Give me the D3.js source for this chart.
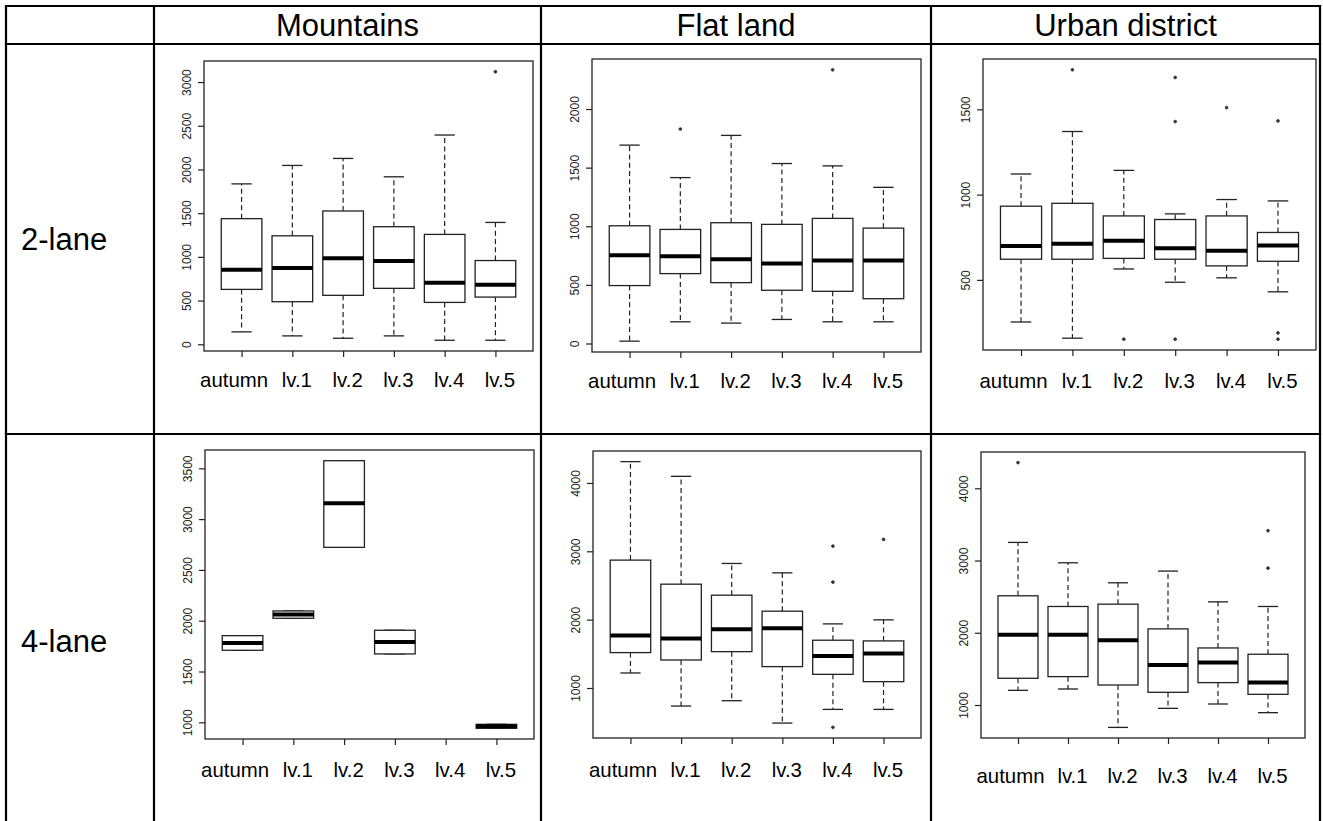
<!DOCTYPE html>
<html lang="en">
<head>
  <meta charset="UTF-8">
  <title>Box plots by region and lanes</title>
  <script src="https://d3js.org/d3.v7.min.js"></script>
  <style>
    body { margin: 0; background: #fff; }
    svg { display: block; font-family: "Liberation Sans", Arial, sans-serif; }
    .grid { stroke: #000; stroke-width: 2.2px; }
    .head { font-size: 31px; fill: #000; }
    .frame { fill: none; stroke: #222; stroke-width: 1.3px; }
    .box { fill: #fff; stroke: #222; stroke-width: 1.3px; }
    .med { stroke: #000; stroke-width: 4px; }
    .whisk { stroke: #222; stroke-width: 1.2px; stroke-dasharray: 5,3.3; }
    .cap { stroke: #222; stroke-width: 1.3px; }
    .out { fill: #333; stroke: #333; stroke-width: 0.8px; }
    .ax line { stroke: #222; stroke-width: 1.2px; }
    .ax path { display: none; }
  </style>
</head>
<body>
  <svg id="chart" width="1323" height="821"></svg>

  <script>
    const categories = ["autumn", "lv.1", "lv.2", "lv.3", "lv.4", "lv.5"];
    const regions = ["Mountains", "Flat land", "Urban district"];
    const lanes = ["2-lane", "4-lane"];

    // per category: [lower whisker, Q1, median, Q3, upper whisker]
    const mountains2 = [[142, 628, 854, 1437, 1835], [96, 487, 873, 1241, 2046], [69, 560, 985, 1525, 2126],
                        [96, 640, 954, 1345, 1916], [46, 479, 705, 1257, 2394], [46, 540, 682, 958, 1394]];
    const mountains2Out = [[], [], [], [], [], [3118]];

    const flat2 = [[20, 494, 753, 1004, 1692], [185, 596, 745, 973, 1415], [174, 519, 719, 1030, 1775],
                   [205, 454, 682, 1016, 1535], [185, 445, 708, 1067, 1515], [185, 382, 708, 984, 1332]];
    const flat2Out = [[], [1829], [], [], [2334], []];

    const urban2 = [[253, 621, 698, 932, 1121], [158, 621, 712, 949, 1370], [564, 626, 730, 875, 1142],
                    [486, 621, 685, 854, 887], [512, 582, 671, 875, 971], [430, 609, 702, 778, 963]];
    const urban2Out = [[], [1732], [152], [1687, 1428, 152], [1510], [1432, 189, 152]];

    const mountains4 = [[1709, 1709, 1781, 1853, 1853], [2024, 2024, 2060, 2096, 2096], [2722, 2722, 3156, 3575, 3575],
                        [1673, 1673, 1791, 1906, 1906], null, [941, 941, 961, 980, 980]];
    const mountains4Out = [[], [], [], [], [], []];

    const flat4 = [[1220, 1518, 1767, 2871, 4312], [736, 1410, 1723, 2519, 4097], [814, 1532, 1860, 2358, 2822],
                   [487, 1313, 1874, 2124, 2685], [687, 1200, 1469, 1699, 1938], [687, 1093, 1503, 1689, 1997]];
    const flat4Out = [[], [], [], [], [3076, 2549, 424], [3174]];

    const urban4 = [[1203, 1370, 1971, 2512, 3251], [1222, 1393, 1971, 2364, 2969], [690, 1277, 1897, 2396, 2692],
                    [954, 1176, 1555, 2054, 2854], [1014, 1310, 1587, 1790, 2428], [894, 1148, 1310, 1703, 2364]];
    const urban4Out = [[4356], [], [], [], [], [3413, 2895]];

    const ticksM2 = [0, 500, 1000, 1500, 2000, 2500, 3000];
    const ticksF2 = [0, 500, 1000, 1500, 2000];
    const ticksU2 = [500, 1000, 1500];
    const ticksM4 = [1000, 1500, 2000, 2500, 3000, 3500];
    const ticksF4 = [1000, 2000, 3000, 4000];
    const ticksU4 = [1000, 2000, 3000, 4000];

    const svg = d3.select("#chart");

    // table grid
    const colX = [6, 154, 541, 931, 1320];
    const rowY = [6, 44, 434, 846];
    svg.selectAll(".vline").data(colX).enter().append("line")
      .attr("class", "grid").attr("x1", d => d).attr("x2", d => d)
      .attr("y1", rowY[0] - 1.1).attr("y2", rowY[3]);
    svg.selectAll(".hline").data(rowY).enter().append("line")
      .attr("class", "grid").attr("y1", d => d).attr("y2", d => d)
      .attr("x1", colX[0] - 1.1).attr("x2", colX[4] + 1.1);

    svg.selectAll(".colhead").data(regions).enter().append("text")
      .attr("class", "head").attr("text-anchor", "middle")
      .attr("x", (d, i) => (colX[i + 1] + colX[i + 2]) / 2)
      .attr("y", 35.5)
      .text(d => d);

    svg.selectAll(".rowhead").data(lanes).enter().append("text")
      .attr("class", "head")
      .attr("x", 21)
      .attr("y", (d, i) => [250, 652][i])
      .text(d => d);

    // panels: plot frame [left, top, right, bottom], label baseline offset
    const panels = [
      { stats: mountains2, outs: mountains2Out, ticks: ticksM2, frame: [204, 61, 533, 351], lab: 36 },
      { stats: flat2, outs: flat2Out, ticks: ticksF2, frame: [592, 59, 921, 352], lab: 36 },
      { stats: urban2, outs: urban2Out, ticks: ticksU2, frame: [983, 59, 1316, 350], lab: 38 },
      { stats: mountains4, outs: mountains4Out, ticks: ticksM4, frame: [205, 450, 534, 739], lab: 38 },
      { stats: flat4, outs: flat4Out, ticks: ticksF4, frame: [593, 451, 921, 738], lab: 39 },
      { stats: urban4, outs: urban4Out, ticks: ticksU4, frame: [981, 452, 1305, 738], lab: 45 }
    ];

    panels.forEach(p => {
      const [l, t, r, b] = p.frame;
      const all = p.stats.filter(s => s).flat().concat(p.outs.flat());
      const lo = d3.min(all), hi = d3.max(all), pad = (hi - lo) * 0.04;
      const y = d3.scaleLinear().domain([lo - pad, hi + pad]).range([b, t]);
      const x = d3.scaleLinear().domain([0.26, 6.74]).range([l, r]);
      const bw = (x(2) - x(1)) * 0.8;
      const g = svg.append("g");

      const items = p.stats.map((s, i) => ({ s, i: i + 1, out: p.outs[i] })).filter(d => d.s);

      const grp = g.selectAll(".bp").data(items).enter().append("g");
      // whiskers
      grp.append("line").attr("class", "whisk")
        .attr("x1", d => x(d.i)).attr("x2", d => x(d.i))
        .attr("y1", d => y(d.s[3])).attr("y2", d => y(d.s[4]));
      grp.append("line").attr("class", "whisk")
        .attr("x1", d => x(d.i)).attr("x2", d => x(d.i))
        .attr("y1", d => y(d.s[1])).attr("y2", d => y(d.s[0]));
      // caps
      [0, 4].forEach(k => {
        grp.append("line").attr("class", "cap")
          .attr("x1", d => x(d.i) - bw / 4).attr("x2", d => x(d.i) + bw / 4)
          .attr("y1", d => y(d.s[k])).attr("y2", d => y(d.s[k]));
      });
      // box
      grp.append("rect").attr("class", "box")
        .attr("x", d => x(d.i) - bw / 2).attr("width", bw)
        .attr("y", d => y(d.s[3])).attr("height", d => y(d.s[1]) - y(d.s[3]));
      grp.append("line").attr("class", "med")
        .attr("x1", d => x(d.i) - bw / 2).attr("x2", d => x(d.i) + bw / 2)
        .attr("y1", d => y(d.s[2])).attr("y2", d => y(d.s[2]));
      // outliers
      grp.selectAll(".out").data(d => d.out.map(v => ({ v, i: d.i }))).enter().append("circle")
        .attr("class", "out").attr("r", 1.4)
        .attr("cx", d => x(d.i)).attr("cy", d => y(d.v));

      g.append("rect").attr("class", "frame")
        .attr("x", l).attr("y", t).attr("width", r - l).attr("height", b - t);

      // y axis
      const ya = g.append("g").attr("class", "ax").attr("transform", `translate(${l},0)`)
        .call(d3.axisLeft(y).tickValues(p.ticks).tickSize(6).tickFormat(d3.format("d")));
      ya.selectAll("text")
        .attr("x", 0).attr("dy", 0).attr("text-anchor", "middle")
        .attr("transform", "translate(-13,0) rotate(-90)")
        .style("font-size", "12px").style("fill", "#222")
        .style("font-family", '"Liberation Sans", Arial, sans-serif');

      // x axis
      const xa = g.append("g").attr("class", "ax").attr("transform", `translate(0,${b})`)
        .call(d3.axisBottom(x).tickValues([1, 2, 3, 4, 5, 6]).tickSize(6).tickFormat(i => categories[i - 1]));
      xa.selectAll("text")
        .attr("y", p.lab).attr("dy", 0)
        .attr("dx", i => i === 1 ? -8 : 4)
        .style("font-size", "20.4px").style("fill", "#000")
        .style("font-family", '"Liberation Sans", Arial, sans-serif');
    });
  </script>
</body>
</html>
